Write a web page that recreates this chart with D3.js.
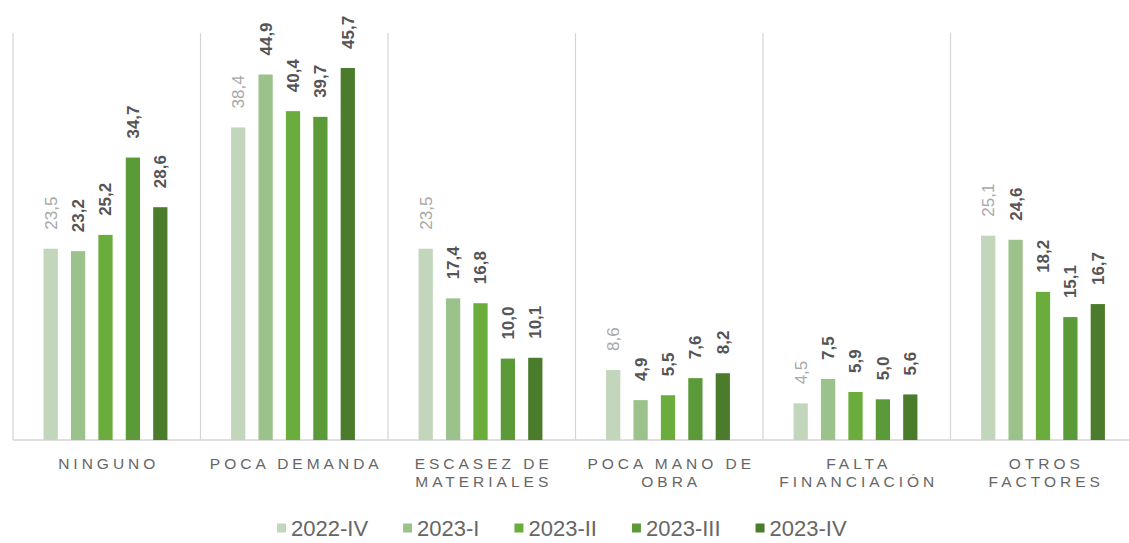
<!DOCTYPE html>
<html>
<head>
<meta charset="utf-8">
<script src="https://cdn.jsdelivr.net/npm/d3@7"></script>
<style>
  body { margin: 0; background: #fff; }
  svg { display: block; font-family: "Liberation Sans", Arial, sans-serif; }
</style>
</head>
<body>
<svg id="chart" width="1129" height="543"></svg>
<script>
// data
const categories = [
  ['NINGUNO'],
  ['POCA DEMANDA'],
  ['ESCASEZ DE', 'MATERIALES'],
  ['POCA MANO DE', 'OBRA'],
  ['FALTA', 'FINANCIACIÓN'],
  ['OTROS', 'FACTORES']
]
const periods = ['2022-IV', '2023-I', '2023-II', '2023-III', '2023-IV']
const s2022IV  = [23.5, 38.4, 23.5, 8.6, 4.5, 25.1]
const s2023I   = [23.2, 44.9, 17.4, 4.9, 7.5, 24.6]
const s2023II  = [25.2, 40.4, 16.8, 5.5, 5.9, 18.2]
const s2023III = [34.7, 39.7, 10.0, 7.6, 5.0, 15.1]
const s2023IV  = [28.6, 45.7, 10.1, 8.2, 5.6, 16.7]
const seriesValues = [s2022IV, s2023I, s2023II, s2023III, s2023IV]

const colors = ['#c2d6bb', '#9cc28c', '#6aad3c', '#5b9a38', '#4b7c2c']
const gridColor = '#d4d4d4'
const textColor = '#666666'

const svg = d3.select('#chart')
const catKeys = categories.map(c => c.join(' '))

// rows for the bars
const rows = []
catKeys.forEach((k, i) => {
  periods.forEach((p, j) => {
    rows.push({ cat: k, period: p, value: seriesValues[j][i], si: j })
  })
})

// scales
const x0 = d3.scaleBand()
  .domain(catKeys)
  .range([13, 13 + 187.5 * 6])
  .padding(0)

const x1 = d3.scaleBand()
  .domain(periods)
  .range([24, 161])
  .paddingInner(0.48)
  .paddingOuter(0.24)

const y = d3.scaleLinear()
  .domain([0, 50])
  .range([440, 33])

const color = d3.scaleOrdinal().domain(periods).range(colors)

// separators between categories
const seps = catKeys.map(k => x0(k))
svg.append('g')
  .selectAll('line')
  .data(seps)
  .enter()
  .append('line')
  .attr('x1', d => d).attr('x2', d => d)
  .attr('y1', y(50)).attr('y2', y(0))
  .attr('stroke', gridColor)
  .attr('stroke-width', 1.2)

// baseline
svg.append('line')
  .attr('x1', x0.range()[0]).attr('x2', 1129)
  .attr('y1', y(0)).attr('y2', y(0))
  .attr('stroke', gridColor)
  .attr('stroke-width', 1.5)

// bars
svg.append('g')
  .selectAll('rect')
  .data(rows)
  .enter()
  .append('rect')
  .attr('x', d => x0(d.cat) + x1(d.period))
  .attr('y', d => y(d.value))
  .attr('width', x1.bandwidth())
  .attr('height', d => y(0) - y(d.value))
  .attr('fill', d => color(d.period))

// value labels, rotated
svg.append('g')
  .selectAll('text')
  .data(rows)
  .enter()
  .append('text')
  .attr('transform', d => {
    const cx = x0(d.cat) + x1(d.period) + x1.bandwidth() / 2
    return `translate(${cx},${y(d.value) - 19}) rotate(-90)`
  })
  .attr('dy', '0.35em')
  .attr('font-size', 17)
  .attr('font-weight', d => d.si === 0 ? 'normal' : 'bold')
  .attr('fill', d => d.si === 0 ? '#a8a8a8' : '#555555')
  .text(d => d.value.toFixed(1).replace('.', ','))

// category labels
const catLabels = svg.append('g')
  .selectAll('text')
  .data(categories)
  .enter()
  .append('text')
  .attr('x', (d, i) => x0(catKeys[i]) + x0.bandwidth() / 2 + 2)
  .attr('y', 469)
  .attr('text-anchor', 'middle')
  .attr('font-size', 15.5)
  .attr('letter-spacing', 4)
  .attr('fill', textColor)

catLabels.selectAll('tspan')
  .data(d => d)
  .enter()
  .append('tspan')
  .attr('x', function () { return d3.select(this.parentNode).attr('x') })
  .attr('dy', (d, i) => i === 0 ? 0 : 18)
  .text(d => d)

// legend
const legend = svg.append('g').attr('transform', 'translate(277,528)')
let lx = 0
periods.forEach((p, i) => {
  const g = legend.append('g').attr('transform', `translate(${lx},0)`)
  g.append('rect')
    .attr('x', 0).attr('y', -4.5)
    .attr('width', 9).attr('height', 9)
    .attr('fill', colors[i])
  const t = g.append('text')
    .attr('x', 14)
    .attr('dy', '0.36em')
    .attr('font-size', 22)
    .attr('fill', textColor)
    .text(p)
  lx += 14 + t.node().getComputedTextLength() + 35
})
</script>
</body>
</html>
